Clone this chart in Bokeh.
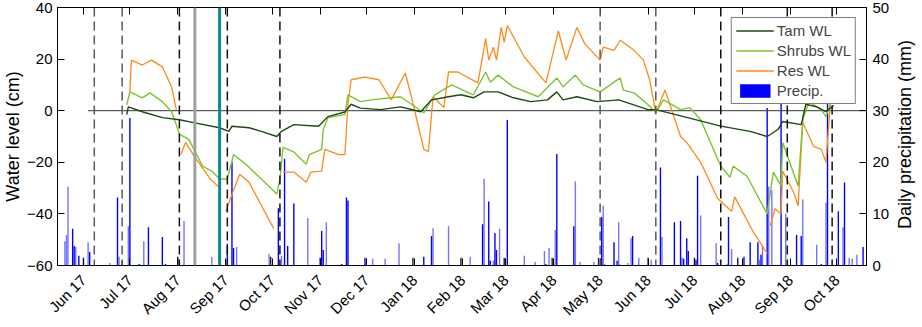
import math
import numpy as np
import pandas as pd
from bokeh.plotting import figure
from bokeh.models import (Range1d, LinearAxis, DatetimeAxis, FixedTicker, Span, Label,
                          ColumnDataSource, Legend, LegendItem)
from bokeh.embed import file_html
from bokeh.resources import INLINE

# ---------------- data ----------------
tick_dates = ["2017-06-01", "2017-07-01", "2017-08-01", "2017-09-01", "2017-10-01",
              "2017-11-01", "2017-12-01", "2018-01-01", "2018-02-01", "2018-03-01",
              "2018-04-01", "2018-05-01", "2018-06-01", "2018-07-01", "2018-08-01",
              "2018-09-01", "2018-10-01"]
tick_labels = ["Jun 17", "Jul 17", "Aug 17", "Sep 17", "Oct 17", "Nov 17", "Dec 17",
               "Jan 18", "Feb 18", "Mar 18", "Apr 18", "May 18", "Jun 18", "Jul 18",
               "Aug 18", "Sep 18", "Oct 18"]

x_start = "2017-05-15 05:00"
x_end = "2018-10-20 05:00"

tam_dates = ["2017-06-29", "2017-06-30", "2017-07-09", "2017-07-22", "2017-08-02",
             "2017-08-12", "2017-08-28", "2017-09-03", "2017-09-05", "2017-09-16",
             "2017-09-24", "2017-10-04", "2017-10-07", "2017-10-15", "2017-10-31",
             "2017-11-06", "2017-11-17", "2017-11-21", "2017-11-27", "2017-12-10",
             "2017-12-23", "2018-01-05", "2018-01-12", "2018-01-23", "2018-01-31",
             "2018-02-08", "2018-02-15", "2018-02-24", "2018-03-06", "2018-03-17",
             "2018-03-28", "2018-04-03", "2018-04-07", "2018-04-16", "2018-04-29",
             "2018-05-13", "2018-06-01", "2018-06-06", "2018-06-24", "2018-07-18",
             "2018-08-06", "2018-08-17", "2018-08-24", "2018-08-27", "2018-09-08",
             "2018-09-11", "2018-09-18", "2018-09-24", "2018-09-29"]
tam_wl = [-1.5, 1.5, -0.4, -2.7, -3.5,
          -4.7, -6.6, -8.0, -6.0, -6.6,
          -8.0, -10.0, -8.0, -5.4, -6.0,
          -2.3, -0.5, 2.5, 1.0, 0.4,
          1.5, -0.4, 4.2, 5.4, 6.2,
          5.0, 7.3, 7.3, 5.0, 3.5,
          4.2, 7.3, 4.2, 5.4, 3.5,
          4.2, 0.4, 0.4, -2.3, -6.0,
          -8.0, -10.0, -7.3, -4.2, -5.4,
          2.5, 1.5, -0.4, 2.0]

shrub_dates = ["2017-06-29", "2017-07-01", "2017-07-09", "2017-07-14", "2017-07-22",
               "2017-07-28", "2017-07-31", "2017-08-02", "2017-08-08", "2017-08-17",
               "2017-08-23", "2017-08-28", "2017-09-02", "2017-09-06", "2017-09-14",
               "2017-09-24", "2017-10-04", "2017-10-06", "2017-10-08", "2017-10-15",
               "2017-10-23", "2017-10-25", "2017-11-02", "2017-11-03", "2017-11-06",
               "2017-11-17", "2017-11-19", "2017-11-27", "2017-12-04", "2017-12-23",
               "2018-01-07", "2018-01-14", "2018-01-25", "2018-02-08", "2018-02-16",
               "2018-02-19", "2018-02-24", "2018-03-06", "2018-03-22", "2018-04-03",
               "2018-04-07", "2018-04-15", "2018-04-20", "2018-05-01", "2018-05-14",
               "2018-05-16", "2018-05-23", "2018-06-01", "2018-06-06", "2018-06-11",
               "2018-06-22", "2018-06-28", "2018-07-05", "2018-07-18", "2018-07-24",
               "2018-07-26", "2018-08-04", "2018-08-17", "2018-08-21", "2018-08-26",
               "2018-08-27", "2018-09-06", "2018-09-09", "2018-09-13", "2018-09-21",
               "2018-09-24", "2018-09-27"]
shrub_wl = [2.3, 7.3, 5.0, 6.9, 3.5,
            -0.4, -5.4, -9.2, -11.0, -21.5,
            -23.4, -26.5, -26.5, -17.0, -20.8,
            -26.5, -32.3, -26.5, -14.2, -16.0,
            -20.8, -17.0, -15.0, -7.3, -2.7,
            -1.5, 6.1, 3.5, 4.2, 5.4,
            -0.8, 6.1, 10.0, 6.1, 15.0,
            11.0, 13.8, 9.2, 5.4, 12.7,
            9.2, 13.8, 10.0, 7.3, 12.7,
            8.0, 6.9, 2.3, -0.8, 4.2,
            0.4, 1.2, -3.5, -21.5, -25.8,
            -21.5, -25.4, -40.0, -23.8, -29.2,
            -12.3, -29.2, -3.5, 3.5, 0.4,
            -2.3, 3.0]

res_dates = ["2017-07-01", "2017-07-02", "2017-07-09", "2017-07-15", "2017-07-22",
             "2017-07-28", "2017-07-31", "2017-08-02", "2017-08-03", "2017-08-06",
             "2017-08-12", "2017-08-22", "2017-08-29", "2017-08-31", "2017-09-01",
             "2017-09-04", "2017-09-10", "2017-09-16", "2017-10-02", "2017-10-05",
             "2017-10-08", "2017-10-15", "2017-10-23", "2017-10-26", "2017-11-02",
             "2017-11-04", "2017-11-13", "2017-11-17", "2017-11-19", "2017-11-21",
             "2017-11-30", "2017-12-09", "2017-12-17", "2017-12-26", "2017-12-30",
             "2018-01-07", "2018-01-10", "2018-01-13", "2018-01-20", "2018-01-23",
             "2018-01-29", "2018-02-11", "2018-02-16", "2018-02-18", "2018-02-21",
             "2018-02-23", "2018-02-26", "2018-02-28", "2018-03-02", "2018-03-13",
             "2018-03-27", "2018-04-04", "2018-04-09", "2018-04-16", "2018-04-21",
             "2018-05-01", "2018-05-03", "2018-05-10", "2018-05-14", "2018-05-23",
             "2018-05-29", "2018-06-02", "2018-06-06", "2018-06-12", "2018-06-22",
             "2018-06-26", "2018-07-05", "2018-07-16", "2018-07-25", "2018-07-27",
             "2018-08-08", "2018-08-17", "2018-08-18", "2018-08-19", "2018-08-22",
             "2018-08-26", "2018-08-27", "2018-09-03", "2018-09-06", "2018-09-09",
             "2018-09-16", "2018-09-21", "2018-09-24", "2018-09-27"]
res_wl = [7.3, 19.6, 17.7, 19.6, 17.0,
          9.2, 0.4, np.nan, -17.0, -12.3,
          -18.0, -26.5, -30.4, np.nan, -39.0,
          -34.0, -24.6, -27.7, -45.7, np.nan,
          -23.8, -23.8, -27.7, -23.8, -23.4,
          -15.0, -17.0, -17.0, 2.3, 12.0,
          13.0, 12.0, 4.2, 14.6, 5.4,
          -15.0, -15.8, 5.4, 1.2, 15.0,
          15.0, 10.8, 28.0, 19.6, 24.6,
          19.6, 32.3, 26.5, 33.0, 20.8,
          10.8, 31.0, 19.6, 32.3, 26.0,
          19.6, 24.6, 23.4, 27.3, 23.4,
          19.6, 12.0, -0.8, 8.0, -10.0,
          -12.3, -20.0, -34.0, -39.0, -33.4,
          -47.0, -55.3, np.nan, -44.6, -38.0,
          -40.0, -23.4, -31.5, -36.9, -4.6,
          -13.8, -15.0, -20.0, 4.2]

precip_dates = ["2017-05-20", "2017-05-21", "2017-05-22", "2017-05-25", "2017-05-26",
                "2017-05-27", "2017-05-29", "2017-06-01", "2017-06-04", "2017-06-05",
                "2017-06-18", "2017-06-23", "2017-06-24", "2017-06-26", "2017-06-30",
                "2017-07-01", "2017-07-07", "2017-07-10", "2017-07-13", "2017-07-22",
                "2017-07-24", "2017-08-01", "2017-08-05", "2017-08-23", "2017-09-02",
                "2017-09-05", "2017-09-06", "2017-09-08", "2017-09-29", "2017-09-30",
                "2017-10-05", "2017-10-07", "2017-10-09", "2017-10-11", "2017-10-15",
                "2017-10-24", "2017-11-01", "2017-11-02", "2017-11-03", "2017-11-05",
                "2017-11-15", "2017-11-18", "2017-11-19", "2017-11-30", "2017-12-05",
                "2017-12-13", "2017-12-22", "2017-12-31", "2018-01-07", "2018-01-12",
                "2018-01-13", "2018-01-23", "2018-01-31", "2018-02-06", "2018-02-10",
                "2018-02-14", "2018-02-15", "2018-02-18", "2018-02-19", "2018-02-21",
                "2018-02-22", "2018-02-23", "2018-02-25", "2018-02-28", "2018-03-02",
                "2018-03-06", "2018-03-13", "2018-03-20", "2018-03-26", "2018-03-27",
                "2018-03-29", "2018-03-31", "2018-04-02", "2018-04-03", "2018-04-14",
                "2018-04-15", "2018-04-18", "2018-04-27", "2018-04-30", "2018-05-02",
                "2018-05-03", "2018-05-04", "2018-05-10", "2018-05-12", "2018-05-13",
                "2018-05-14", "2018-05-19", "2018-05-21", "2018-05-22", "2018-05-26",
                "2018-06-01", "2018-06-03", "2018-06-09", "2018-06-10", "2018-06-18",
                "2018-06-22", "2018-06-23", "2018-06-24", "2018-06-26", "2018-06-27",
                "2018-07-01", "2018-07-02", "2018-07-03", "2018-07-05", "2018-07-15",
                "2018-07-16", "2018-07-22", "2018-07-23", "2018-07-25", "2018-07-29",
                "2018-08-02", "2018-08-06", "2018-08-11", "2018-08-12", "2018-08-13",
                "2018-08-14", "2018-08-17", "2018-08-18", "2018-08-20", "2018-08-26",
                "2018-08-29", "2018-09-05", "2018-09-08", "2018-09-09", "2018-09-18",
                "2018-09-21", "2018-09-24", "2018-09-25", "2018-10-02", "2018-10-05",
                "2018-10-06", "2018-10-09", "2018-10-11", "2018-10-14", "2018-10-18"]
precip_mm = [4.7, 5.9, 15.3, 7.1, 3.8,
             3.6, 1.9, 1.5, 4.5, 2.6,
             0.5, 13.2, 1.7, 0.9, 7.6,
             28.6, 0.3, 4.7, 7.4, 5.5,
             0.3, 1.7, 8.6, 1.7, 4.2,
             20.1, 3.4, 3.6, 2.3, 1.7,
             11.1, 1.9, 20.7, 3.8, 12.0,
             9.2, 1.5, 6.7, 3.0, 8.4,
             0.3, 13.2, 12.6, 1.5, 1.3,
             1.3, 4.3, 1.5, 1.7, 5.7,
             7.2, 7.6, 1.5, 1.7, 0.1,
             8.0, 16.8, 12.4, 0.9, 0.9,
             6.3, 3.0, 7.1, 1.5, 28.2,
             0.1, 1.9, 0.7, 2.8, 0.3,
             3.4, 1.5, 6.9, 21.6, 7.6,
             16.3, 0.7, 0.7, 1.5, 9.4,
             11.6, 0.3, 4.5, 0.9, 8.4,
             0.2, 0.5, 5.3, 5.7, 1.5,
             1.5, 1.1, 19.0, 5.5, 8.4,
             8.6, 1.5, 1.3, 5.3, 2.8,
             1.5, 1.1, 17.4, 9.7, 4.3,
             0.5, 0.3, 9.4, 3.2, 1.5,
             1.7, 4.5, 4.5, 1.1, 2.1,
             3.8, 30.5, 15.3, 14.6, 36.0,
             10.1, 5.9, 5.7, 12.8, 4.0,
             0.3, 12.2, 34.0, 10.5, 7.4,
             16.1, 1.5, 1.3, 2.1, 3.6]
# how each bar looks in the picture: b = deep blue, l = pale blue, k = black
precip_group = list("lllbblbklb" "lblklbblbb" "bkllbbbllk" "blbbblkbbl" "bbbblllkbb"
                    "llkllblbbl" "bblkbblllb" "lklbblllkb" "llbbllllbl" "klblbblbbb"
                    "kbbllblblk" "bbblblbllb" "lbbllblbbl" "blllb")

zero_line_dates = ["2017-06-04", x_end]
zero_line_values = [0, 0]

dashed_gray_dates = ["2017-06-08", "2017-06-26", "2018-05-01", "2018-06-06"]
dashed_black_dates = ["2017-08-02", "2017-09-02", "2017-10-06", "2018-07-18",
                      "2018-08-30", "2018-09-28"]
gray_solid_date = "2017-08-12"
teal_solid_date = "2017-08-28"


def ms(d):
    return int(pd.Timestamp(d).value // 10**6)


FONT = "Liberation Sans"
DAY = 86400000
BAR_COLORS = {"b": ("#0000ff", 1.0), "l": ("#0000ff", 0.55), "k": ("#202020", 1.0)}

p = figure(width=922, height=327, x_axis_type="datetime",
           x_range=Range1d(ms(x_start), ms(x_end)), y_range=Range1d(-60, 40),
           output_backend="svg", toolbar_location=None,
           min_border_left=55, min_border_right=56, min_border_top=7, min_border_bottom=60)
p.extra_y_ranges = {"precip": Range1d(0, 50)}
p.grid.visible = False
p.outline_line_color = "black"
p.outline_line_width = 1
p.background_fill_color = "white"
p.border_fill_color = "white"

# precipitation bars
src = {g: dict(x=[], top=[]) for g in BAR_COLORS}
for d, v, g in zip(precip_dates, precip_mm, precip_group):
    src[g]["x"].append(ms(d))
    src[g]["top"].append(v)
bar_r = {}
for g, (c, a) in BAR_COLORS.items():
    bar_r[g] = p.vbar(x="x", top="top", bottom=0, width=0.9 * DAY,
                      source=ColumnDataSource(src[g]), y_range_name="precip",
                      fill_color=c, fill_alpha=a, line_color=None)

# zero reference line
p.line([ms(d) for d in zero_line_dates], zero_line_values, line_color="#333333", line_width=1)

# water level series
r_res = p.line([ms(d) for d in res_dates], res_wl, line_color="#ff8a1c", line_width=1.3)
r_shr = p.line([ms(d) for d in shrub_dates], shrub_wl, line_color="#7cc52e", line_width=1.4)
r_tam = p.line([ms(d) for d in tam_dates], tam_wl, line_color="#1d4a10", line_width=1.4)

# vertical markers
for d in dashed_gray_dates:
    p.add_layout(Span(location=ms(d), dimension="height", line_color="#5a5a5a",
                      line_width=1.5, line_dash="9 5"))
for d in dashed_black_dates:
    p.add_layout(Span(location=ms(d), dimension="height", line_color="#111111",
                      line_width=1.5, line_dash="9 5"))
p.add_layout(Span(location=ms(gray_solid_date), dimension="height",
                  line_color="#a0a0a0", line_width=3))
p.add_layout(Span(location=ms(teal_solid_date), dimension="height",
                  line_color="#0e8796", line_width=3))

# axes
ticks_ms = [ms(d) for d in tick_dates]
xa = p.xaxis[0]
xa.ticker = FixedTicker(ticks=ticks_ms)
xa.major_label_overrides = {t: l for t, l in zip(ticks_ms, tick_labels)}
xa.major_label_orientation = math.pi / 4

top_axis = DatetimeAxis(ticker=FixedTicker(ticks=ticks_ms), major_label_text_font_size="0px",
                        major_label_text_color=None, major_label_standoff=0)
p.add_layout(top_axis, "above")

ya = p.yaxis[0]
ya.ticker = FixedTicker(ticks=[-60, -40, -20, 0, 20, 40])
ya.axis_label = "Water level (cm)"

ra = LinearAxis(y_range_name="precip", ticker=FixedTicker(ticks=[0, 10, 20, 30, 40, 50]))
p.add_layout(ra, "right")

for ax in [xa, top_axis, ya, ra]:
    ax.major_tick_in = 7
    ax.major_tick_out = 0
    ax.minor_tick_line_color = None
    ax.axis_line_color = "black"
    ax.major_tick_line_color = "black"
    ax.major_label_text_font = FONT
    ax.axis_label_text_font = FONT
    ax.axis_label_text_font_style = "normal"
    ax.axis_label_text_color = "black"
    ax.axis_label_text_font_size = "18px"
for ax in [xa, ya, ra]:
    ax.major_label_text_font_size = "15px"
    ax.major_label_text_color = "black"
xa.major_label_standoff = 12
ya.major_label_standoff = 5
ra.major_label_standoff = 6
ya.axis_label_standoff = 1

# right-hand axis title, reading bottom-to-top like the left one
right_title = Label(x=12, y=131, x_units="screen", y_units="screen",
                    text="Daily precipitation (mm)", angle=math.pi / 2,
                    text_align="center", text_baseline="middle",
                    text_font=FONT, text_font_size="18px", text_color="black")
p.add_layout(right_title, "right")

legend = Legend(items=[LegendItem(label="Tam WL", renderers=[r_tam]),
                       LegendItem(label="Shrubs WL", renderers=[r_shr]),
                       LegendItem(label="Res WL", renderers=[r_res]),
                       LegendItem(label="Precip.", renderers=[bar_r["b"]])],
                location="top_right", margin=10, padding=4, spacing=3,
                glyph_width=38, glyph_height=17, label_height=17, label_standoff=3,
                label_text_font=FONT, label_text_font_size="15px",
                border_line_color="black", border_line_width=1,
                background_fill_color="white", background_fill_alpha=1)
p.add_layout(legend)

open("out.html", "w").write(file_html(p, INLINE))
